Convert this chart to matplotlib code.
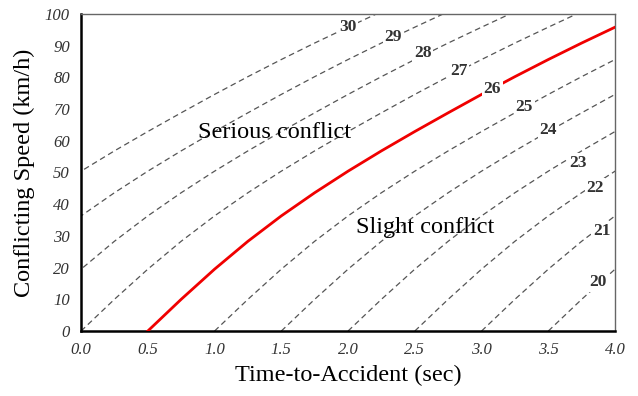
import matplotlib
matplotlib.use('Agg')
import matplotlib.pyplot as plt
import numpy as np

base_time = [0.0, 0.25, 0.5, 0.75, 1.0, 1.25, 1.5, 1.75, 2.0, 2.25, 2.5, 2.75, 3.0, 3.25, 3.5, 3.75, 4.0]
base_speed = [0.0, 10.0, 19.5, 28.3, 36.3, 43.6, 50.4, 56.8, 62.9, 68.8, 74.6, 80.2, 85.6, 90.8, 95.8, 100.7, 105.4]

levels = [20, 21, 22, 23, 24, 25, 26, 27, 28, 29, 30]
zero_speed_time = [3.5, 3.0, 2.5, 2.0, 1.5, 1.0, 0.5, 0.0, -0.5, -1.0, -1.5]
label_x = [3.87, 3.90, 3.85, 3.72, 3.50, 3.32, 3.08, 2.83, 2.56, 2.34, 2.00]
label_y = [15.5, 31.5, 45.1, 53.0, 63.4, 70.7, 76.3, 82.0, 87.7, 92.7, 95.9]
threshold_level = 26

xticks = [0.0, 0.5, 1.0, 1.5, 2.0, 2.5, 3.0, 3.5, 4.0]
yticks = [0, 10, 20, 30, 40, 50, 60, 70, 80, 90, 100]

plt.rcParams['font.family'] = ['Liberation Serif', 'DejaVu Serif']

fig = plt.figure(figsize=(6.38, 3.96), dpi=100)
ax = fig.add_axes([0.127, 0.164, 0.837, 0.801])

bt = np.asarray(base_time)
bs = np.asarray(base_speed)
for lev, t0, lx, ly in zip(levels, zero_speed_time, label_x, label_y):
    if lev == threshold_level:
        ax.plot(bt + t0, bs, '-', color='#f00000', lw=2.0, zorder=3)
    else:
        ax.plot(bt + t0, bs, color='#555555', lw=0.9, dashes=(4.5, 3), zorder=2)
    ax.text(lx, ly, str(lev), ha='center', va='center', fontsize=12.5, fontweight='bold',
            color='#333333', zorder=4,
            bbox=dict(boxstyle='square,pad=0.1', fc='white', ec='none'))

ax.text(1.45, 62.5, 'Serious conflict', ha='center', va='center', fontsize=17.5)
ax.text(2.58, 32.8, 'Slight conflict', ha='center', va='center', fontsize=17.5)

ax.set_xlim(0, 4.0)
ax.set_ylim(0, 100)
ax.set_xticks(xticks)
ax.set_xticklabels([f'{v:.1f}' for v in xticks])
ax.set_yticks(yticks)
ax.tick_params(length=0, labelsize=12, labelcolor='#333333', pad=8)
for lab in ax.get_xticklabels() + ax.get_yticklabels():
    lab.set_fontstyle('italic')

for side in ('left', 'bottom'):
    ax.spines[side].set_linewidth(1.8)
    ax.spines[side].set_color('black')
for side in ('top', 'right'):
    ax.spines[side].set_linewidth(1.0)
    ax.spines[side].set_color('#666666')

ax.set_xlabel('Time-to-Accident (sec)', fontsize=17.5, labelpad=5)
ax.set_ylabel('Conflicting Speed (km/h)', fontsize=17.5, labelpad=7)

fig.savefig('out.png', dpi=100)
